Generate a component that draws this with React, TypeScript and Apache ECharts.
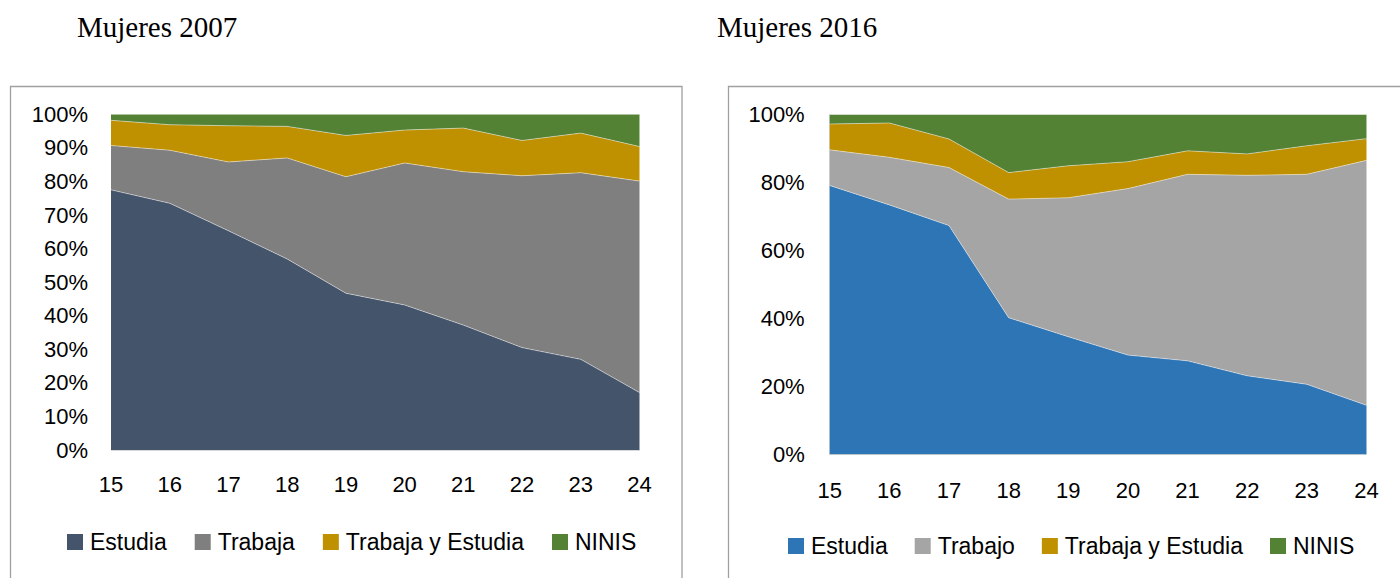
import React, { useEffect, useRef } from "react";
import * as echarts from "echarts";

const ages = ["15", "16", "17", "18", "19", "20", "21", "22", "23", "24"];

// Mujeres 2007 (%)
const estudia2007 = [77.5, 73.5, 65.3, 56.9, 46.7, 43.2, 37.2, 30.5, 27.0, 17.1];
const trabaja2007 = [13.2, 15.8, 20.5, 30.1, 34.7, 42.3, 45.7, 51.2, 55.6, 63.0];
const trabajaEstudia2007 = [7.5, 7.6, 10.8, 9.4, 12.3, 9.8, 13.0, 10.5, 11.8, 10.3];
const ninis2007 = [1.8, 3.1, 3.4, 3.6, 6.3, 4.7, 4.1, 7.8, 5.6, 9.6];

// Mujeres 2016 (%)
const estudia2016 = [79.1, 73.4, 67.3, 40.2, 34.6, 29.2, 27.5, 23.1, 20.6, 14.4];
const trabajo2016 = [10.5, 14.0, 17.1, 34.9, 40.9, 49.0, 54.9, 59.0, 61.8, 72.1];
const trabajaEstudia2016 = [7.6, 10.1, 8.4, 7.8, 9.4, 7.9, 6.9, 6.3, 8.4, 6.4];
const ninis2016 = [2.8, 2.5, 7.2, 17.1, 15.1, 13.9, 10.7, 11.6, 9.2, 7.1];

const title2007 = "Mujeres 2007";
const title2016 = "Mujeres 2016";

const FONT = "Liberation Sans";

function areaSeries(name: string, data: number[], color: string, idx: number, stack: string) {
  return {
    name,
    type: "line",
    stack,
    data,
    xAxisIndex: idx,
    yAxisIndex: idx,
    showSymbol: false,
    symbol: "none",
    lineStyle: { width: 1, color: "rgba(255,255,255,0.45)" },
    areaStyle: { color, opacity: 1 },
    itemStyle: { color },
    emphasis: { disabled: true },
  };
}

export default function App() {
  const ref = useRef<HTMLDivElement>(null);
  useEffect(() => {
    if (!ref.current) return;
    const chart = echarts.init(ref.current, undefined, { renderer: "svg" });
    const axisLabelStyle = { fontFamily: FONT, fontSize: 22, color: "#000" };
    const legendCommon = {
      orient: "horizontal",
      padding: 0,
      itemWidth: 16,
      itemHeight: 16,
      icon: "rect",
      textStyle: { fontFamily: FONT, fontSize: 23, color: "#000", padding: [0, 0, 0, 2], lineHeight: 24 },
    };
    chart.setOption({
      animation: false,
      backgroundColor: "#fff",
      grid: [
        { left: 111, top: 114.3, width: 528.5, height: 335.7, containLabel: false },
        { left: 829.7, top: 114.5, width: 536.8, height: 339.8, containLabel: false },
      ],
      xAxis: [0, 1].map((i) => ({
        type: "category",
        gridIndex: i,
        data: ages,
        boundaryGap: false,
        axisTick: { show: false },
        axisLine: { show: true, lineStyle: { color: "#d9d9d9", width: 1 } },
        axisLabel: { ...axisLabelStyle, margin: i === 0 ? 23 : 25 },
        splitLine: { show: false },
      })),
      yAxis: [0, 1].map((i) => ({
        type: "value",
        gridIndex: i,
        min: 0,
        max: 100,
        interval: i === 0 ? 10 : 20,
        axisTick: { show: false },
        axisLine: { show: true, lineStyle: { color: "#d9d9d9", width: 1 } },
        splitLine: { show: false },
        axisLabel: { ...axisLabelStyle, margin: i === 0 ? 23 : 25, formatter: "{value}%" },
      })),
      legend: [
        {
          ...legendCommon,
          itemGap: 28,
          left: 67,
          top: 530,
          data: ["Estudia", "Trabaja", "Trabaja y Estudia", "NINIS"],
        },
        {
          ...legendCommon,
          itemGap: 27,
          left: 788,
          top: 534,
          data: ["Estudia ", "Trabajo", "Trabaja y Estudia ", "NINIS "],
          formatter: (n: string) => n.trim(),
        },
      ],
      series: [
        areaSeries("Estudia", estudia2007, "#44546A", 0, "a"),
        areaSeries("Trabaja", trabaja2007, "#7F7F7F", 0, "a"),
        areaSeries("Trabaja y Estudia", trabajaEstudia2007, "#BF9000", 0, "a"),
        areaSeries("NINIS", ninis2007, "#548235", 0, "a"),
        areaSeries("Estudia ", estudia2016, "#2E75B6", 1, "b"),
        areaSeries("Trabajo", trabajo2016, "#A5A5A5", 1, "b"),
        areaSeries("Trabaja y Estudia ", trabajaEstudia2016, "#BF9000", 1, "b"),
        areaSeries("NINIS ", ninis2016, "#548235", 1, "b"),
      ],
      graphic: [
        {
          type: "rect",
          shape: { x: 10.5, y: 86.5, width: 671.5, height: 600 },
          style: { fill: "none", stroke: "#a0a0a0", lineWidth: 1.3 },
          silent: true,
        },
        {
          type: "rect",
          shape: { x: 728.5, y: 86.5, width: 700, height: 600 },
          style: { fill: "none", stroke: "#a0a0a0", lineWidth: 1.3 },
          silent: true,
        },
        {
          type: "text",
          x: 77,
          y: 27,
          style: {
            text: title2007,
            font: "29px 'Liberation Serif'",
            fill: "#000",
            textVerticalAlign: "middle",
            verticalAlign: "middle",
          },
        },
        {
          type: "text",
          x: 717,
          y: 27,
          style: {
            text: title2016,
            font: "29px 'Liberation Serif'",
            fill: "#000",
            textVerticalAlign: "middle",
            verticalAlign: "middle",
          },
        },
      ],
    });
    return () => chart.dispose();
  }, []);
  return (
    <div
      ref={ref}
      style={{ position: "fixed", left: 0, top: 0, width: 1400, height: 578, background: "#fff" }}
    />
  );
}
